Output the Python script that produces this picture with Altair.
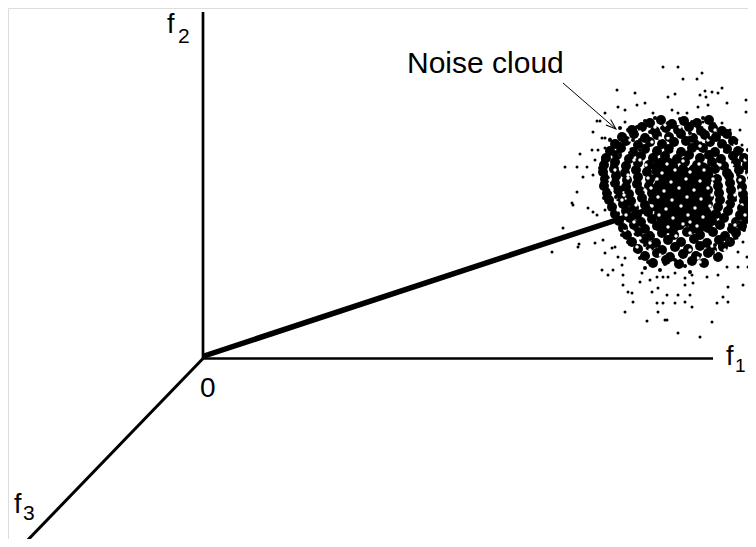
import altair as alt
import pandas as pd

# ---- diagram coordinates (x to the right, y downward) ----
# line segments: f2 axis, f1 axis, f3 axis, signal vector, arrow shaft
seg_x  = [203, 203, 203, 204, 563]
seg_y  = [12, 358.5, 358.5, 356, 83]
seg_x2 = [203, 713, 22, 668, 616]
seg_y2 = [358.5, 358.5, 546, 203, 129]
seg_w  = [2.7, 2.7, 3.0, 5.5, 1.0]

# arrow head at the end of the annotation arrow
head_x = [616]
head_y = [129]

# darkest centre of the noise cloud (center and radius)
core_x = [680, 665, 700, 670, 700]
core_y = [195, 170, 175, 220, 218]
core_r = [32, 15, 15, 15, 15]

# small light specks inside the cloud body
gap_pts = [
    (667, 164), (683, 161), (699, 164), (662, 173), (675, 170), (690, 172), (704, 170),
    (657, 179), (671, 182), (686, 179), (700, 181), (713, 179), (651, 188), (664, 191),
    (679, 188), (694, 190), (708, 188), (658, 197), (672, 200), (687, 197), (701, 199),
    (652, 206), (666, 209), (681, 206), (695, 208), (710, 206), (659, 215), (673, 218),
    (688, 215), (703, 217), (668, 227), (683, 224), (697, 226), (676, 236), (690, 233),
    (640, 160), (628, 178), (622, 200), (634, 222), (650, 243), (715, 245), (735, 225),
    (740, 190), (728, 160), (700, 140), (660, 138), (645, 190), (725, 205),
    (640, 150), (652, 142), (668, 138), (690, 134), (708, 140), (722, 150), (732, 165),
    (740, 180), (742, 205), (738, 222), (728, 240), (715, 252), (698, 258), (678, 258),
    (660, 255), (645, 246), (633, 232), (626, 215), (624, 195), (628, 175), (634, 160),
    (646, 165), (720, 165), (727, 225), (650, 250), (700, 146), (675, 150), (636, 205),
    (735, 195), (712, 246), (615, 170), (612, 190), (618, 210), (748, 175), (750, 200),
    (745, 215), (680, 127), (705, 127), (655, 127), (630, 140), (640, 238), (690, 250),
    (620, 155), (610, 180), (616, 198), (625, 230), (637, 247), (660, 262), (700, 262),
    (725, 250), (744, 238), (752, 185), (745, 160), (735, 145), (715, 130), (665, 125),
    (640, 132), (628, 150), (648, 178), (712, 195), (690, 222), (655, 232),
]
gap_x = [p[0] for p in gap_pts]
gap_y = [p[1] for p in gap_pts]

# dense speckle of the cloud body
band_pts = [
    (650, 123), (661, 120), (672, 124), (684, 121), (697, 123), (709, 120),
    (632, 130), (642, 127), (655, 131), (666, 128), (678, 130), (689, 127), (701, 131), (713, 128), (722, 131),
    (622, 137), (634, 134), (645, 138), (657, 135), (669, 137), (681, 134), (693, 138), (705, 135), (716, 137), (727, 134),
    (615, 144), (626, 141), (638, 145), (650, 142), (662, 144), (674, 142), (686, 141), (698, 145), (710, 142), (722, 144), (733, 141),
    (610, 151), (621, 148), (633, 152), (645, 149), (657, 151), (669, 149), (681, 152), (692, 148), (703, 148), (715, 152), (727, 149), (738, 151),
    (606, 158), (617, 155), (629, 159), (641, 156), (653, 158), (665, 156), (677, 159), (689, 155), (700, 158), (709, 155), (721, 159), (733, 156), (744, 158),
    (604, 165), (615, 162), (626, 166), (638, 163), (649, 165), (661, 163), (673, 166), (685, 162), (697, 165), (712, 162), (724, 166), (736, 163), (747, 165),
    (603, 172), (614, 169), (625, 173), (636, 170), (647, 172), (659, 170), (671, 173), (683, 169), (694, 172), (705, 170), (715, 169), (727, 173), (739, 170), (750, 172),
    (605, 179), (616, 176), (627, 180), (638, 177), (650, 179), (661, 176), (672, 180), (684, 177), (695, 179), (706, 176), (717, 179), (729, 176), (741, 180), (752, 177),
    (604, 186), (615, 183), (626, 187), (637, 184), (649, 186), (660, 183), (671, 187), (683, 184), (694, 186), (706, 183), (718, 186), (730, 183), (742, 187), (753, 184),
    (607, 193), (618, 190), (629, 194), (640, 191), (652, 193), (663, 190), (674, 194), (685, 191), (697, 193), (708, 190), (719, 193), (731, 190), (743, 194), (754, 191),
    (609, 200), (620, 197), (631, 201), (642, 198), (653, 200), (664, 197), (675, 201), (686, 198), (698, 200), (709, 197), (720, 200), (732, 197), (744, 201), (753, 198),
    (612, 207), (623, 204), (634, 208), (645, 205), (656, 207), (667, 204), (678, 208), (689, 205), (700, 207), (708, 204), (718, 207), (730, 204), (742, 208), (751, 205),
    (615, 214), (626, 211), (637, 215), (648, 212), (659, 214), (670, 211), (681, 215), (693, 212), (704, 214), (716, 214), (728, 211), (740, 215), (749, 212),
    (619, 221), (630, 218), (641, 222), (652, 219), (663, 221), (675, 218), (687, 222), (700, 219), (712, 221), (724, 218), (736, 222), (746, 219),
    (623, 228), (634, 225), (645, 229), (657, 226), (668, 228), (680, 225), (693, 229), (708, 228), (720, 225), (732, 229), (742, 226),
    (627, 235), (638, 232), (650, 236), (662, 233), (674, 235), (687, 232), (700, 235), (713, 232), (725, 236), (736, 233),
    (632, 242), (644, 239), (656, 243), (668, 240), (681, 242), (694, 239), (707, 243), (719, 240), (730, 242),
    (638, 249), (650, 246), (662, 250), (675, 247), (688, 249), (700, 246), (712, 250), (723, 247),
    (645, 256), (657, 253), (670, 257), (683, 254), (696, 256), (708, 253), (718, 257),
    (653, 263), (666, 260), (679, 264), (692, 261), (704, 263),
]
band_x = [p[0] for p in band_pts]
band_y = [p[1] for p in band_pts]

# sparser ring around the body
ring_x = [645, 655, 668, 680, 692, 703, 714, 628, 637, 622, 633, 720, 728, 736, 615,
          611, 742, 747, 620, 662, 698, 610,
          603, 600, 606, 602, 607, 604, 610, 614, 617, 612, 618, 614, 620, 616, 621,
          625, 622, 628,
          635, 640, 648, 657, 665, 675, 685, 695, 705, 713, 720, 728, 645, 660, 690,
          745, 750, 743, 752, 747, 741, 750, 738, 744, 735, 753, 755, 755, 748,
          630, 625, 628, 632, 640, 725, 735, 738, 735, 730, 715, 700, 670, 645, 620,
          668, 690, 710, 650, 640]
ring_y = [121, 118, 123, 119, 122, 118, 124, 130, 127, 137, 140, 130, 136, 143, 145,
          152, 150, 158, 128, 128, 128, 140,
          160, 168, 175, 183, 190, 198, 205, 212, 220, 165, 172, 180, 188, 197, 205,
          228, 235, 242,
          250, 258, 262, 255, 264, 260, 266, 258, 262, 252, 246, 240, 268, 270, 272,
          168, 175, 183, 190, 198, 207, 213, 222, 230, 238, 222, 200, 180, 150,
          160, 170, 205, 215, 150, 150, 160, 175, 200, 225, 245, 255, 255, 245, 155,
          135, 133, 138, 132, 140]

# scattered outer dots of the noise cloud
out_x = [663, 617, 635, 645, 637, 618, 625, 625, 597, 600, 605, 593, 602, 605, 610,
         625, 632, 580, 587, 577, 592, 598, 605, 583, 577, 593, 595, 603, 612, 620,
         640, 653, 658, 650,
         678, 702, 683, 697, 722, 712, 718, 705, 700, 706, 675, 668, 727, 746, 753,
         708, 698, 746, 672, 678, 687, 703, 722, 730, 740, 750, 742, 750, 755, 737,
         663,
         573, 588, 593, 597, 605, 612, 578, 579, 595, 603, 605, 612, 615, 618, 622,
         625, 602, 613, 608, 623, 642, 640, 650, 657, 623, 628, 632, 658, 652, 633,
         657, 663, 625, 658, 647, 665,
         663, 668, 675, 685, 692, 685, 693, 707, 718, 728, 743, 748, 738, 727, 667,
         678, 690, 675, 685, 692, 723, 728, 717, 667, 712, 678, 700, 738, 747, 752,
         743, 737,
         563, 552, 572, 565]
out_y = [67, 90, 93, 103, 105, 107, 110, 122, 121, 121, 113, 132, 138, 138, 139,
         135, 135, 154, 167, 167, 150, 150, 148, 177, 192, 175, 160, 157, 152, 143,
         127, 113, 120, 123,
         67, 73, 79, 79, 88, 92, 93, 91, 95, 97, 94, 97, 103, 100, 96,
         105, 107, 112, 110, 113, 113, 122, 123, 130, 130, 140, 145, 152, 162, 140,
         120,
         205, 208, 212, 215, 210, 213, 247, 244, 243, 240, 253, 248, 247, 257, 265,
         258, 270, 270, 275, 275, 273, 282, 280, 277, 285, 292, 293, 288, 292, 302,
         303, 303, 312, 312, 321, 320,
         277, 277, 273, 278, 275, 285, 283, 277, 275, 287, 285, 267, 267, 267, 295,
         295, 295, 303, 302, 307, 297, 302, 303, 320, 322, 333, 337, 252, 257, 242,
         242, 238,
         228, 252, 203, 167]

# text labels (main part and subscripts)
lab_text = ["f", "2", "f", "1", "f", "3", "0", "Noise cloud"]
lab_x    = [167, 178, 726, 735, 14, 23, 200, 407]
lab_y    = [33, 43, 365, 372, 513, 520, 397, 73]
lab_fs   = [27, 21, 27, 19, 27, 21, 28, 30]

FONT = "Liberation Sans"

xs = alt.Scale(domain=[8, 748], nice=False, zero=False)
ys = alt.Scale(domain=[8, 539], nice=False, zero=False, reverse=True)


def X(f):
    return alt.X(f, type="quantitative", scale=xs, axis=None)


def Y(f):
    return alt.Y(f, type="quantitative", scale=ys, axis=None)


def dots(x, y, color, size):
    df = pd.DataFrame({"x": x, "y": y})
    return alt.Chart(df).mark_circle(color=color, opacity=1, size=size).encode(
        x=X("x"), y=Y("y")
    )


seg_df = pd.DataFrame({"x": seg_x, "y": seg_y, "x2": seg_x2, "y2": seg_y2, "w": seg_w})
core_df = pd.DataFrame({"x": core_x, "y": core_y, "r": core_r})
core_df["s"] = 3.14159 * core_df["r"] ** 2
head_df = pd.DataFrame({"x": head_x, "y": head_y})
lab_df = pd.DataFrame({"t": lab_text, "x": lab_x, "y": lab_y, "fs": lab_fs})

segments = alt.Chart(seg_df).mark_rule(color="black", strokeCap="butt").encode(
    x=X("x"), y=Y("y"), x2="x2", y2="y2",
    strokeWidth=alt.StrokeWidth("w:Q", scale=None),
)

core = alt.Chart(core_df).mark_circle(color="black", opacity=1).encode(
    x=X("x"), y=Y("y"), size=alt.Size("s:Q", scale=None, legend=None)
)

band = dots(band_x, band_y, "black", 100)
gaps = dots(gap_x, gap_y, "white", 12)
ring = dots(ring_x, ring_y, "black", 16)
outer = dots(out_x, out_y, "black", 9)

head = alt.Chart(head_df).mark_point(
    shape="M-1,-0.35L0,0L-1,0.35", size=420, angle=41,
    filled=False, color="black", strokeWidth=1, opacity=1,
).encode(x=X("x"), y=Y("y"))

labels = alt.Chart(lab_df).mark_text(
    align="left", baseline="alphabetic", font=FONT, color="black"
).encode(
    x=X("x"), y=Y("y"), text="t:N",
    size=alt.Size("fs:Q", scale=None, legend=None),
)

chart = alt.layer(
    segments, core, band, gaps, ring, outer, head, labels
).properties(
    width=740, height=531, padding=0, autosize=alt.AutoSizeParams(type="none")
).configure_view(stroke=None).configure(background="white")

chart.save("out.html", embed_options={"renderer": "svg", "actions": False})
